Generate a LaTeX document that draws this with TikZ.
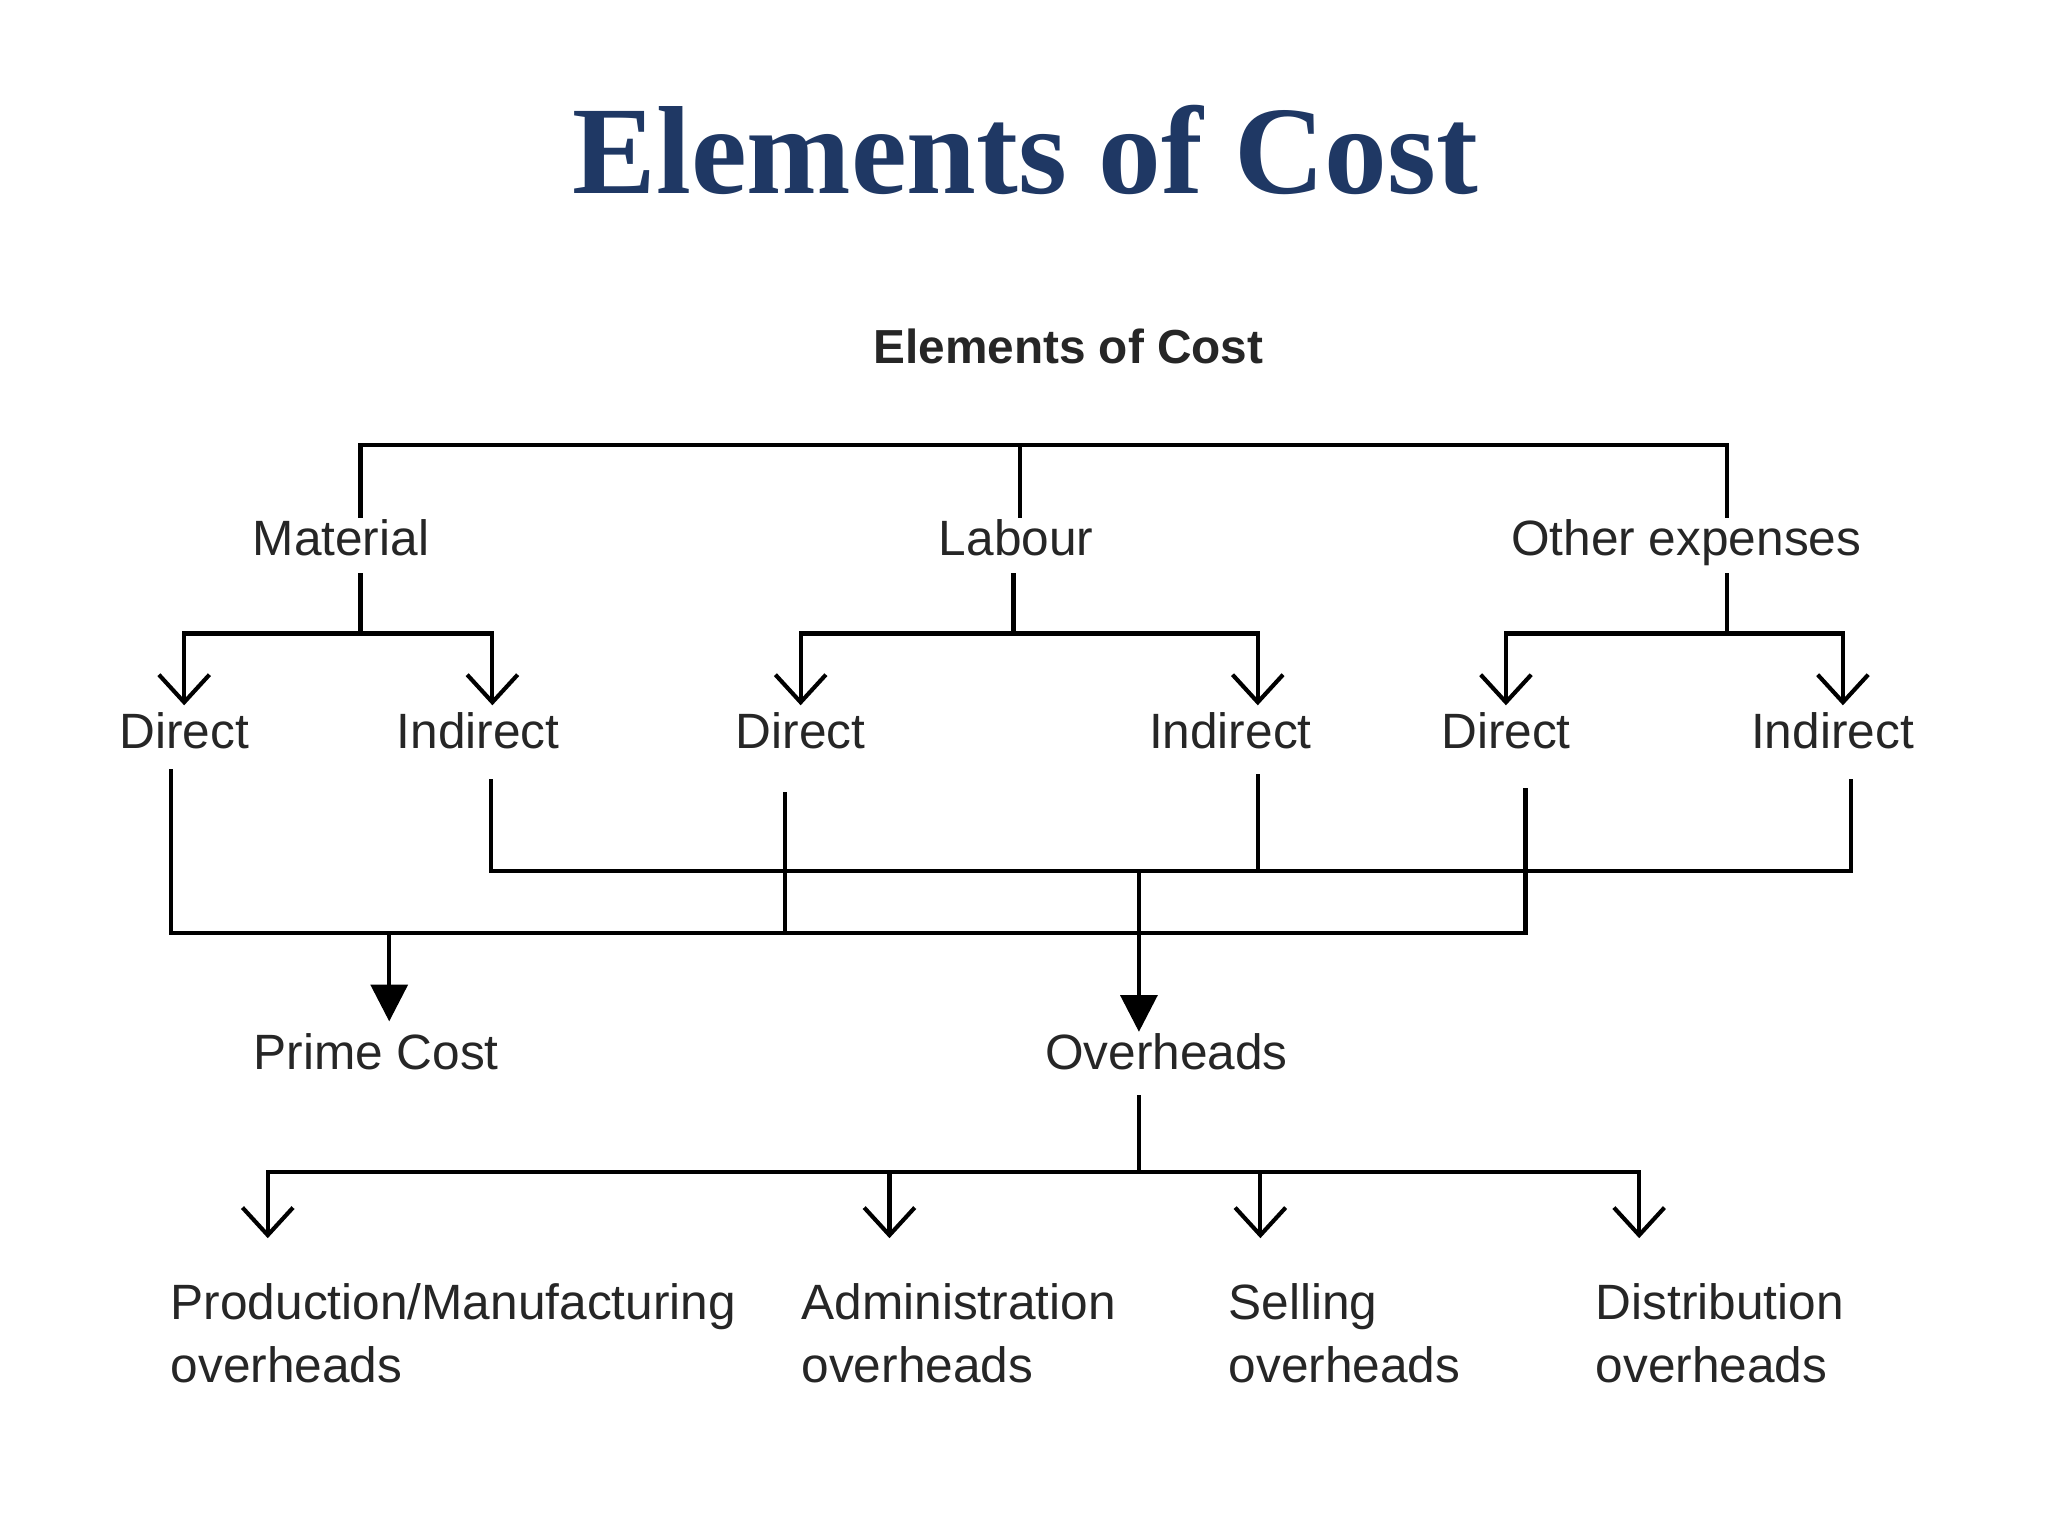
\documentclass[tikz,border=0pt]{standalone}
\usepackage{fontspec}
\setmainfont{Liberation Sans}
\newfontfamily\titlefont{Liberation Serif}
\usetikzlibrary{arrows.meta}
\definecolor{navy}{HTML}{1F3864}
\begin{document}
\begin{tikzpicture}[x=0.01cm,y=-0.01cm,
  ln/.style={line width=0.9pt,line cap=rect},
  varr/.style={ln,-{Straight Barb[length=6pt,width=11pt,line width=0.9pt]}},
  farr/.style={ln,-{Triangle[length=8pt,width=8pt]}},
  lbl/.style={font=\fontsize{10.8}{13}\selectfont,text=black!85,inner sep=0pt,text height=8pt,text depth=2.2pt},
  blbl/.style={font=\fontsize{10.8}{13.7}\selectfont,text=black!85,inner sep=0pt,anchor=north west,align=left}]
\useasboundingbox (0,0) rectangle (1568,1176);
\node[font=\titlefont\bfseries\fontsize{27.3}{30}\selectfont,text=navy] (title) at (785,115) {Elements of Cost};
\node[lbl,font=\bfseries\fontsize{10.4}{13}\selectfont] (root) at (818,268) {Elements of Cost};
\node[lbl] (mat) at (261,415) {Material};
\node[lbl] (lab) at (778,415) {Labour};
\node[lbl] (oth) at (1291,415) {Other expenses};
\node[lbl] (d1) at (141,563) {Direct};
\node[lbl] (i1) at (366,563) {Indirect};
\node[lbl] (d2) at (613,563) {Direct};
\node[lbl] (i2) at (942,563) {Indirect};
\node[lbl] (d3) at (1153,563) {Direct};
\node[lbl] (i3) at (1403,563) {Indirect};
\node[lbl] (pc) at (288,809) {Prime Cost};
\node[lbl] (ov) at (893,809) {Overheads};
\node[blbl] (b1) at (130,982) {Production/Manufacturing\\overheads};
\node[blbl] (b2) at (613,982) {Administration\\overheads};
\node[blbl] (b3) at (940,982) {Selling\\overheads};
\node[blbl] (b4) at (1221,982) {Distribution\\overheads};
% top level
\draw[ln] (276,395) -- (276,341) -- (1322,341) -- (1322,395);
\draw[ln] (781,341) -- (781,395);
\draw[ln] (276,440) -- (276,485);
\draw[ln] (776,440) -- (776,485);
\draw[ln] (1322,440) -- (1322,485);
\draw[varr] (276,485) -| (141,540);
\draw[varr] (276,485) -| (377,540);
\draw[varr] (776,485) -| (613,540);
\draw[varr] (776,485) -| (963,540);
\draw[varr] (1322,485) -| (1153,540);
\draw[varr] (1322,485) -| (1411,540);
% direct
\draw[ln] (131,590) -- (131,714) -- (1168,714) -- (1168,605);
\draw[ln] (601,608) -- (601,714);
\draw[farr] (298,714) -- (298,782);
% indirect
\draw[ln] (376,598) -- (376,667) -- (1417,667) -- (1417,598);
\draw[ln] (963,594) -- (963,667);
\draw[farr] (872,667) -- (872,790);
% overheads
\draw[ln] (872,840) -- (872,897);
\draw[varr] (872,897) -| (205,948);
\draw[varr] (872,897) -| (681,948);
\draw[varr] (872,897) -| (965,948);
\draw[varr] (872,897) -| (1255,948);
\end{tikzpicture}
\end{document}
